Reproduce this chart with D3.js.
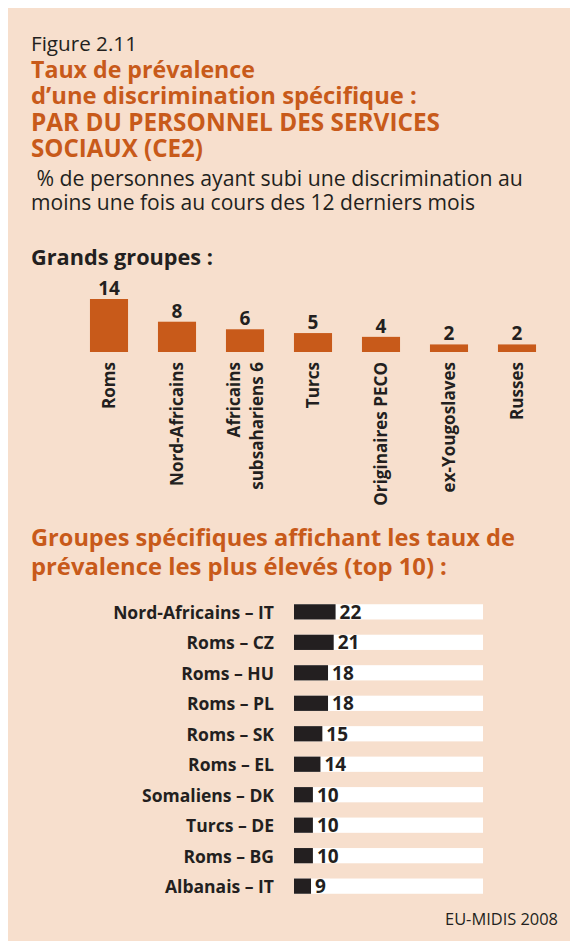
<!DOCTYPE html>
<html>
<head>
<meta charset="utf-8">
<script src="https://cdn.jsdelivr.net/npm/d3@7"></script>
<style>
  body { margin: 0; background: #fff; }
  svg text { font-family: "Open Sans", "DejaVu Sans", sans-serif; }
</style>
</head>
<body>
<div id="chart"></div>
<script>
// grands groupes
var groupNames = [["Roms"], ["Nord-Africains"], ["Africains", "subsahariens 6"], ["Turcs"], ["Originaires PECO"], ["ex-Yougoslaves"], ["Russes"]];
var groupValues = [14, 8, 6, 5, 4, 2, 2];

// top 10
var topNames = ["Nord-Africains – IT", "Roms – CZ", "Roms – HU", "Roms – PL", "Roms – SK", "Roms – EL", "Somaliens – DK", "Turcs – DE", "Roms – BG", "Albanais – IT"];
var topValues = [22, 21, 18, 18, 15, 14, 10, 10, 10, 9];

var titleLines = ["Taux de prévalence", "d’une discrimination spécifique :", "PAR DU PERSONNEL DES SERVICES", "SOCIAUX (CE2)"];
var subLines = ["\u00a0% de personnes ayant subi une discrimination au", "moins une fois au cours des 12 derniers mois"];
var section2Lines = ["Groupes spécifiques affichant les taux de", "prévalence les plus élevés (top 10) :"];

var W = 570, H = 941;
var orange = "#c85a1a", dark = "#231f20", bg = "#f7dfcd";

var svg = d3.select("#chart").append("svg").attr("width", W).attr("height", H);

// scale font so the text gets the wanted width
function fit(sel, width) {
  var fs = +sel.attr("font-size");
  var w = sel.node().getComputedTextLength();
  sel.attr("font-size", (fs * width / w).toFixed(2));
  return sel;
}

svg.append("rect").attr("x", 8).attr("y", 8).attr("width", W - 8).attr("height", H - 8).attr("fill", bg);

fit(svg.append("text").attr("x", 31).attr("y", 51).attr("font-size", 20).attr("fill", dark).text("Figure 2.11"), 106);

var titleEnds = [224, 386, 409, 172];
svg.selectAll(".title").data(titleLines).enter().append("text")
  .attr("x", 31).attr("y", function (d, i) { return 78 + i * 26.3; })
  .attr("font-size", 22).attr("font-weight", "bold").attr("fill", orange)
  .text(function (d) { return d; })
  .each(function (d, i) { fit(d3.select(this), titleEnds[i]); });

var subEnds = [492, 444];
svg.selectAll(".sub").data(subLines).enter().append("text")
  .attr("x", 31).attr("y", function (d, i) { return 186 + i * 24; })
  .attr("font-size", 20).attr("fill", dark)
  .text(function (d) { return d; })
  .each(function (d, i) { fit(d3.select(this), subEnds[i]); });

fit(svg.append("text").attr("x", 31).attr("y", 265).attr("font-size", 20)
  .attr("font-weight", "bold").attr("fill", dark).text("Grands groupes :"), 182);

// vertical bars
var x = d3.scaleBand().domain(d3.range(groupValues.length)).range([75, 551]).paddingInner(0.44).paddingOuter(0.22);
var y = d3.scaleLinear().domain([0, 14]).range([352, 299]);

var g1 = svg.append("g");
g1.selectAll("rect").data(groupValues).enter().append("rect")
  .attr("x", function (d, i) { return x(i); })
  .attr("y", function (d) { return y(d); })
  .attr("width", x.bandwidth())
  .attr("height", function (d) { return y(0) - y(d); })
  .attr("fill", orange);

g1.selectAll(".val").data(groupValues).enter().append("text")
  .attr("x", function (d, i) { return x(i) + x.bandwidth() / 2; })
  .attr("y", function (d) { return y(d) - 4; })
  .attr("text-anchor", "middle").attr("font-size", 19).attr("font-weight", "bold").attr("fill", dark)
  .text(function (d) { return d; });

// label size taken from "Nord-Africains" (about 124px long)
var probe = svg.append("text").attr("font-size", 20).attr("font-weight", "bold").text("Nord-Africains");
var labSize = 20 * 124 / probe.node().getComputedTextLength();
probe.remove();

groupNames.forEach(function (lines, i) {
  var cx = x(i) + x.bandwidth() / 2;
  lines.forEach(function (line, j) {
    var off = (j - (lines.length - 1) / 2) * 23;
    svg.append("text")
      .attr("transform", "translate(" + (cx + off + labSize * 0.36) + ",362) rotate(-90)")
      .attr("text-anchor", "end").attr("font-size", labSize.toFixed(2)).attr("font-weight", "bold").attr("fill", dark)
      .text(line);
  });
});

var sec2Ends = [484, 416];
svg.selectAll(".sec2").data(section2Lines).enter().append("text")
  .attr("x", 31).attr("y", function (d, i) { return 546 + i * 28.5; })
  .attr("font-size", 22).attr("font-weight", "bold").attr("fill", orange)
  .text(function (d) { return d; })
  .each(function (d, i) { fit(d3.select(this), sec2Ends[i]); });

// horizontal bars
var xs = d3.scaleLinear().domain([0, 100]).range([294, 483]);
var ys = d3.scaleBand().domain(topNames).range([589, 909]).padding(0.5);

var g2 = svg.append("g");
g2.selectAll(".track").data(topNames).enter().append("rect")
  .attr("x", xs(0)).attr("y", function (d) { return ys(d); })
  .attr("width", xs(100) - xs(0)).attr("height", ys.bandwidth()).attr("fill", "#fff");

g2.selectAll(".bar").data(topValues).enter().append("rect")
  .attr("x", xs(0)).attr("y", function (d, i) { return ys(topNames[i]); })
  .attr("width", function (d) { return xs(d) - xs(0); }).attr("height", ys.bandwidth()).attr("fill", dark);

g2.selectAll(".num").data(topValues).enter().append("text")
  .attr("x", function (d) { return xs(d) + 4; })
  .attr("y", function (d, i) { return ys(topNames[i]) + ys.bandwidth() / 2 + 7; })
  .attr("font-size", 19).attr("font-weight", "bold").attr("fill", dark)
  .text(function (d) { return d; });

probe = svg.append("text").attr("font-size", 20).attr("font-weight", "bold").text(topNames[0]);
var rowSize = 20 * 161 / probe.node().getComputedTextLength();
probe.remove();

g2.selectAll(".lab").data(topNames).enter().append("text")
  .attr("x", 274)
  .attr("y", function (d) { return ys(d) + ys.bandwidth() / 2 + 7; })
  .attr("text-anchor", "end").attr("font-size", rowSize.toFixed(2)).attr("font-weight", "bold").attr("fill", dark)
  .text(function (d) { return d; });

fit(svg.append("text").attr("x", 558).attr("y", 925).attr("text-anchor", "end")
  .attr("font-size", 16).attr("fill", dark).text("EU-MIDIS 2008"), 113);
</script>
</body>
</html>
